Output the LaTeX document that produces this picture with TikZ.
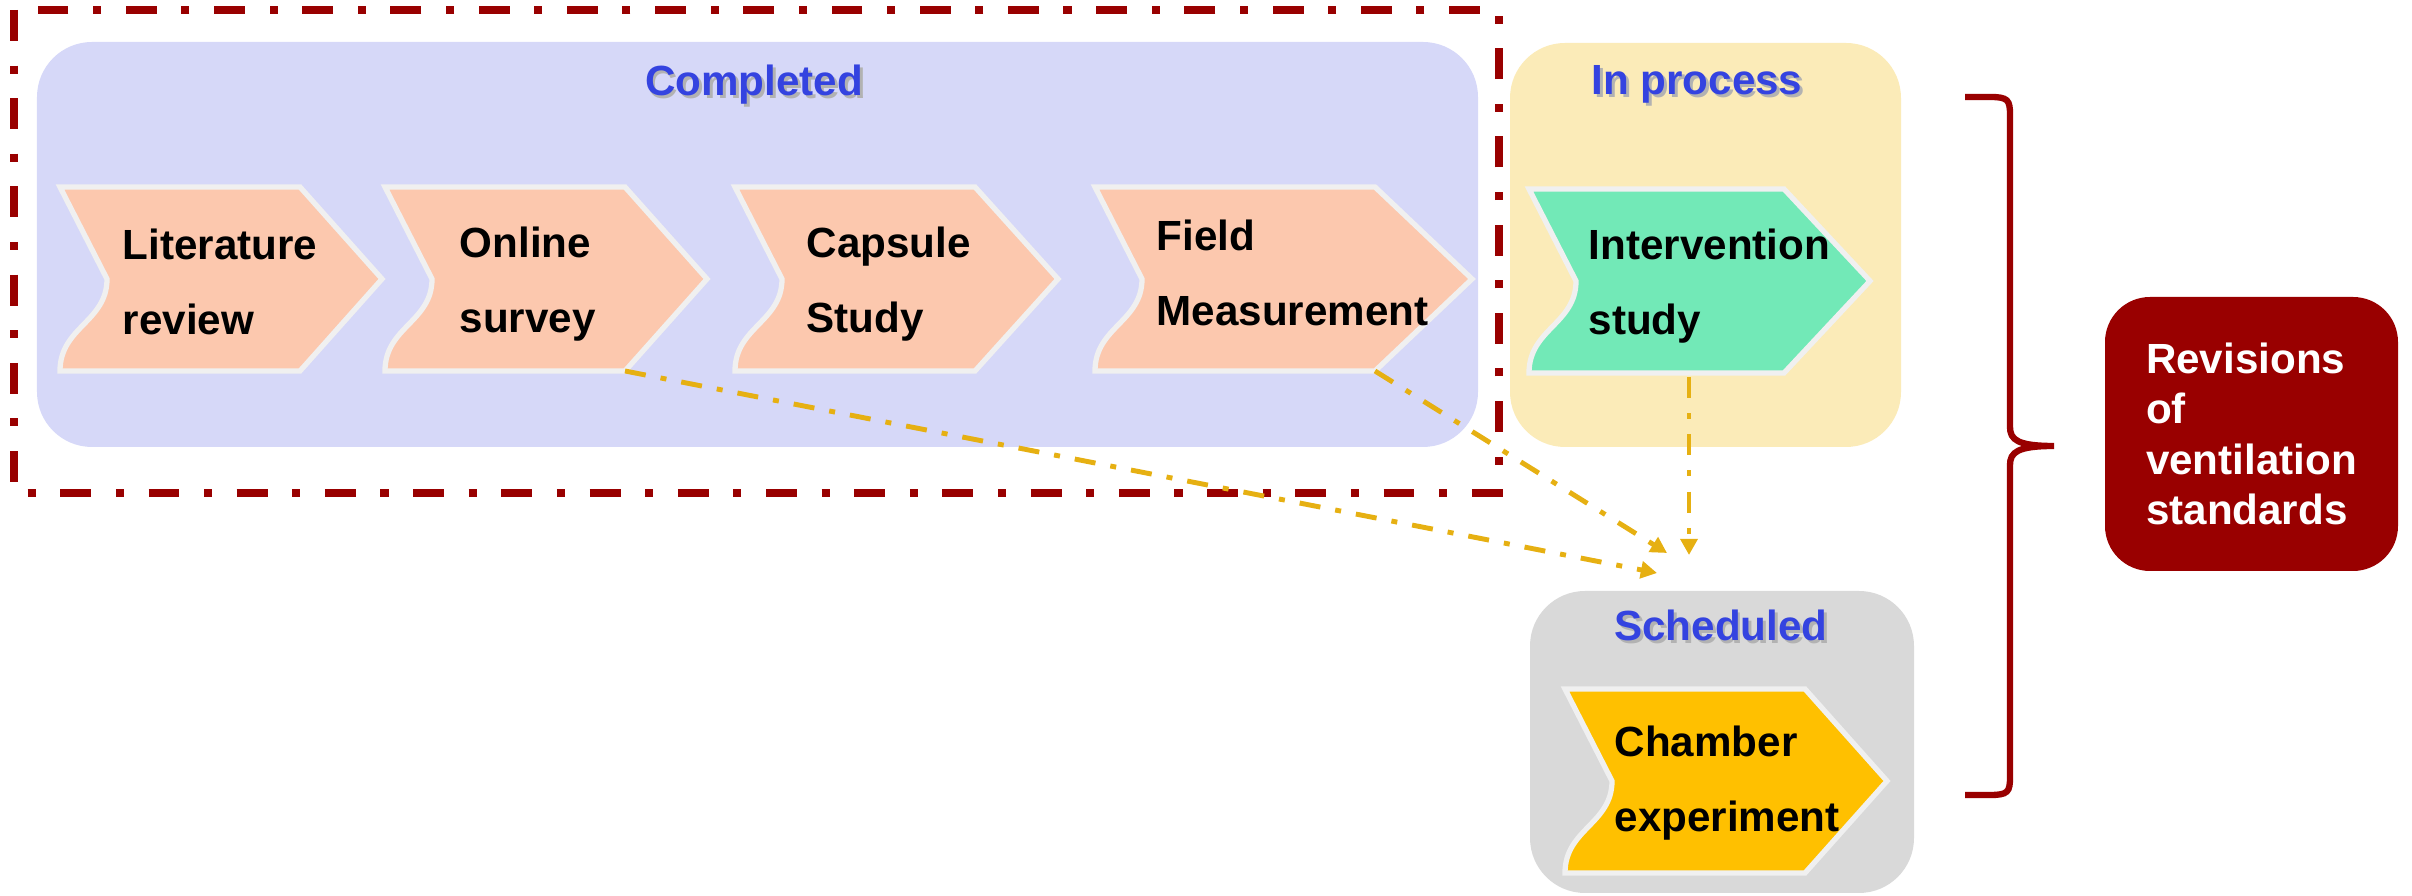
\documentclass[tikz,border=0pt]{standalone}
\usepackage{fontspec}
\setmainfont{Liberation Sans}
\usetikzlibrary{arrows.meta}

\definecolor{framered}{HTML}{990000}
\definecolor{donebg}{HTML}{D6D8F8}
\definecolor{procbg}{HTML}{FBEBB8}
\definecolor{schedbg}{HTML}{D9D9D9}
\definecolor{peach}{HTML}{FCC8AE}
\definecolor{mint}{HTML}{72E9B7}
\definecolor{amber}{HTML}{FFC000}
\definecolor{headblue}{HTML}{3443E0}
\definecolor{flowgold}{HTML}{E6B012}
\definecolor{chevedge}{HTML}{F0F0F0}

\tikzset{
  chevline/.style={draw=chevedge, line width=1.5pt, line join=miter},
  steptext/.style={inner sep=0pt, anchor=west, align=left, font=\bfseries\fontsize{12}{21.5}\selectfont},
  headtext/.style={inner sep=0pt, text=headblue, font=\bfseries\fontsize{12}{14}\selectfont},
  revbox/.style={fill=framered, text=white, rounded corners=0.45cm, minimum width=2.93cm, minimum height=2.74cm, align=left, font=\bfseries\fontsize{12}{14.3}\selectfont},
  flow/.style={draw=flowgold, line width=1.4pt, dash pattern=on 6pt off 4.3pt on 1.7pt off 4.3pt, -{Triangle[length=4.6pt,width=4.8pt]}},
  phase/.style={rounded corners=0.55cm},
}

% chevron: name, fill, left, top, corner x, tip x
\newcommand{\chev}[6]{%
  \filldraw[chevline, fill=#2] (#3,#4) -- (#5,#4) -- (#6,{#4-0.92}) -- (#5,{#4-1.84}) -- (#3,{#4-1.84})
    .. controls (#3,{#4-1.40}) and ({#3+0.47},{#4-1.35}) .. ({#3+0.47},{#4-0.92}) -- cycle;
  \coordinate (#1-se) at (#5,{#4-1.84});
}
\newcommand{\shadowed}[1]{\rlap{\kern0.8pt\raisebox{-0.8pt}{\textcolor{black!30}{#1}}}#1}

\begin{document}
\begin{tikzpicture}
  \useasboundingbox (0,0) rectangle (24.12,-8.96);

  % phases
  \fill[donebg, phase] (0.37,-0.42) rectangle (14.78,-4.47);
  \fill[procbg, phase] (15.10,-0.43) rectangle (19.01,-4.47);
  \fill[schedbg, phase] (15.30,-5.91) rectangle (19.14,-8.93);
  \draw[framered, line width=2pt, dash pattern=on 8.8pt off 7pt on 2.3pt off 7pt]
    (0.14,-0.10) rectangle (14.99,-4.93);

  \node[headtext] (done) at (7.54,-0.86) {\shadowed{Completed}};
  \node[headtext] (proc) at (16.97,-0.86) {\shadowed{In process}};
  \node[headtext] (sched) at (17.21,-6.27) {\shadowed{Scheduled}};

  % steps
  \chev{lit}{peach}{0.60}{-1.87}{3.00}{3.82}
  \chev{onl}{peach}{3.85}{-1.87}{6.25}{7.07}
  \chev{cap}{peach}{7.35}{-1.87}{9.75}{10.58}
  \chev{fld}{peach}{10.95}{-1.87}{13.75}{14.72}
  \chev{int}{mint}{15.29}{-1.89}{17.84}{18.70}
  \chev{cha}{amber}{15.65}{-6.89}{18.05}{18.87}

  \node[steptext] (lit-t) at (1.22,-2.82) {Literature\\review};
  \node[steptext] (onl-t) at (4.59,-2.84) {Online\\survey};
  \node[steptext] (cap-t) at (8.06,-2.84) {Capsule\\Study};
  \node[steptext] (fld-t) at (11.56,-2.73) {Field\\Measurement};
  \node[steptext] (int-t) at (15.88,-2.86) {Intervention\\study};
  \node[steptext] (cha-t) at (16.14,-7.83) {Chamber\\experiment};

  \node[revbox] (rev) at (22.515,-4.34) {Revisions\\of\\ventilation\\standards};

  % brace
  \draw[framered, line width=1.8pt]
    (19.65,-0.97) -- (19.90,-0.97) .. controls (20.08,-0.97) and (20.10,-1.00) .. (20.10,-1.15)
    -- (20.10,-4.27) .. controls (20.10,-4.40) and (20.18,-4.46) .. (20.54,-4.46)
    .. controls (20.18,-4.46) and (20.10,-4.52) .. (20.10,-4.65)
    -- (20.10,-7.77) .. controls (20.10,-7.92) and (20.08,-7.95) .. (19.90,-7.95) -- (19.65,-7.95);

  \coordinate (int-foot) at (16.89,-3.77);
  \coordinate (in-a) at (16.57,-5.73);
  \coordinate (in-b) at (16.67,-5.53);
  \coordinate (in-c) at (16.89,-5.55);

  \draw[flow] (onl-se) -- (in-a);
  \draw[flow] (fld-se) -- (in-b);
  \draw[flow] (int-foot) -- (in-c);
\end{tikzpicture}
\end{document}
